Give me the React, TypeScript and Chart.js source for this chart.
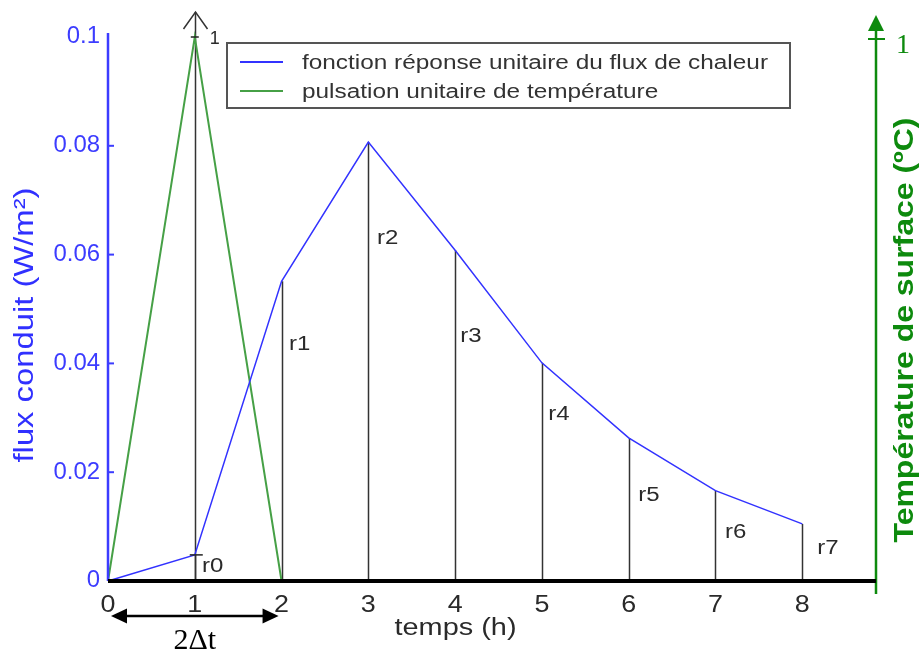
import React, { useEffect, useRef } from 'react';
import { Chart, registerables } from 'chart.js';

Chart.register(...registerables);

// ---- data ----
const hours = [0, 1, 2, 3, 4, 5, 6, 7, 8];
const fluxResponse = [0, 0.0048, 0.0551, 0.0807, 0.0608, 0.0401, 0.0263, 0.0166, 0.0105];
const pulseHours = [0, 1, 2];
const pulseTemp = [0, 1, 0];
const xTickLabels = ['0', '1', '2', '3', '4', '5', '6', '7', '8'];
const yTickValues = [0, 0.02, 0.04, 0.06, 0.08, 0.1];
const yTickLabels = ['0', '0.02', '0.04', '0.06', '0.08', '0.1'];
const rLabels = ['r0', 'r1', 'r2', 'r3', 'r4', 'r5', 'r6', 'r7'];
// annotation anchors (data units)
const rLabelX = [1.084, 2.086, 3.1, 4.058, 5.072, 6.11, 7.11, 8.173];
const rLabelY = [0.0026, 0.0434, 0.063, 0.0449, 0.0307, 0.0158, 0.009, 0.0059];

const SANS = '"Liberation Sans", Arial, sans-serif';
const SERIF = '"Liberation Serif", "Times New Roman", serif';
const BLUE = '#3232ff';
const AXIS_BLUE = '#3c3cff';
const GREEN_LINE = '#46a046';
const GREEN_AXIS = '#0d8a0d';
const TEXT = '#2a2a2a';

function drawText(
  ctx: CanvasRenderingContext2D,
  text: string,
  x: number,
  y: number,
  font: string,
  color: string,
  opts: { align?: CanvasTextAlign; baseline?: CanvasTextBaseline; rotate?: number; width?: number; stretch?: number } = {}
) {
  ctx.save();
  ctx.translate(x, y);
  if (opts.rotate) ctx.rotate(opts.rotate);
  ctx.font = font;
  const w = ctx.measureText(text).width;
  const s = opts.width ? opts.width / w : opts.stretch ?? 1;
  ctx.scale(s, 1);
  ctx.textAlign = opts.align ?? 'left';
  ctx.textBaseline = opts.baseline ?? 'alphabetic';
  ctx.fillStyle = color;
  ctx.fillText(text, 0, 0);
  ctx.restore();
  return s;
}

function line(ctx: CanvasRenderingContext2D, x1: number, y1: number, x2: number, y2: number) {
  ctx.beginPath();
  ctx.moveTo(x1, y1);
  ctx.lineTo(x2, y2);
  ctx.stroke();
}

const decor = {
  id: 'decor',
  beforeDatasetsDraw(chart: any) {
    const { ctx, chartArea } = chart;
    const x = chart.scales.x;
    const y = chart.scales.y;
    const y0 = y.getPixelForValue(0);
    ctx.save();
    ctx.strokeStyle = '#333';
    ctx.lineWidth = 1.5;
    for (let i = 1; i < hours.length; i++) {
      const px = Math.round(x.getPixelForValue(hours[i])) + 0.5;
      line(ctx, px, y0, px, y.getPixelForValue(fluxResponse[i]));
    }
    // arrow at t = 1
    const p1 = Math.round(x.getPixelForValue(1)) + 0.5;
    const top = chartArea.top - 25;
    line(ctx, p1, y0, p1, top);
    ctx.beginPath();
    ctx.moveTo(p1 - 12, top + 17);
    ctx.lineTo(p1, top);
    ctx.lineTo(p1 + 12, top + 17);
    ctx.stroke();
    ctx.restore();
  },
  afterDatasetsDraw(chart: any) {
    const { ctx, chartArea } = chart;
    const x = chart.scales.x;
    const y = chart.scales.y;
    const y2 = chart.scales.y2;
    const y0 = y.getPixelForValue(0);
    const left = chartArea.left;
    const right = chartArea.right;
    ctx.save();

    // small marks at t=1
    const p1 = x.getPixelForValue(1);
    ctx.strokeStyle = '#222';
    ctx.lineWidth = 1.5;
    line(ctx, p1 - 5, y.getPixelForValue(fluxResponse[1]), p1 + 8, y.getPixelForValue(fluxResponse[1]));
    line(ctx, p1 - 4, y.getPixelForValue(0.1), p1 + 4, y.getPixelForValue(0.1));

    // left axis
    ctx.strokeStyle = AXIS_BLUE;
    ctx.lineWidth = 2.5;
    line(ctx, left, chartArea.top - 4, left, y0);
    ctx.lineWidth = 2;
    yTickValues.forEach((v, i) => {
      const py = y.getPixelForValue(v);
      if (v > 0 && v < 0.1) line(ctx, left, py, left + 6, py);
      drawText(ctx, yTickLabels[i], left - 8, py, `23px ${SANS}`, AXIS_BLUE, { align: 'right', baseline: 'middle', stretch: 1.04 });
    });

    // right axis (green, with arrow)
    const top2 = y2.getPixelForValue(1);
    ctx.strokeStyle = GREEN_AXIS;
    ctx.fillStyle = GREEN_AXIS;
    ctx.lineWidth = 2.5;
    line(ctx, right, y0 + 13, right, top2 - 7);
    ctx.beginPath();
    ctx.moveTo(right, top2 - 22);
    ctx.lineTo(right - 8, top2 - 6);
    ctx.lineTo(right + 8, top2 - 6);
    ctx.closePath();
    ctx.fill();
    ctx.lineWidth = 2;
    line(ctx, right - 8, top2 + 2, right + 9, top2 + 2);
    drawText(ctx, '1', right + 20, top2 + 16, `28px ${SERIF}`, GREEN_AXIS);

    // x axis
    ctx.strokeStyle = '#000';
    ctx.lineWidth = 4;
    line(ctx, left, y0, right, y0);
    hours.forEach((h, i) => {
      drawText(ctx, xTickLabels[i], x.getPixelForValue(h), y0 + 31, `24px ${SANS}`, TEXT, { align: 'center', stretch: 1.12 });
    });
    drawText(ctx, 'temps (h)', (x.getPixelForValue(4) + x.getPixelForValue(5)) / 2 - 43, y0 + 54, `23px ${SANS}`, TEXT, { align: 'center', width: 122 });

    // axis titles
    drawText(ctx, 'flux conduit (W/m²)', 33, (chartArea.top + y0) / 2 + 16, `27px ${SANS}`, '#3030ff', { align: 'center', rotate: -Math.PI / 2, width: 275 });
    drawText(ctx, 'Température de surface (ºC)', 913, 330, `bold 28px ${SANS}`, GREEN_AXIS, { align: 'center', rotate: -Math.PI / 2, width: 425 });

    // "1" label near top arrow
    drawText(ctx, '1', p1 + 15, chartArea.top + 7, `18px ${SANS}`, TEXT);

    // r labels
    rLabels.forEach((r, i) => {
      drawText(ctx, r, x.getPixelForValue(rLabelX[i]), y.getPixelForValue(rLabelY[i]), `20px ${SANS}`, TEXT, { baseline: 'middle', stretch: 1.2 });
    });

    // 2Δt arrow
    const a = x.getPixelForValue(0) + 3;
    const b = x.getPixelForValue(2) - 3;
    const ay = y0 + 35;
    ctx.strokeStyle = '#000';
    ctx.fillStyle = '#000';
    ctx.lineWidth = 2.5;
    line(ctx, a + 10, ay, b - 10, ay);
    ctx.beginPath();
    ctx.moveTo(a, ay);
    ctx.lineTo(a + 16, ay - 7.5);
    ctx.lineTo(a + 16, ay + 7.5);
    ctx.closePath();
    ctx.fill();
    ctx.beginPath();
    ctx.moveTo(b, ay);
    ctx.lineTo(b - 16, ay - 7.5);
    ctx.lineTo(b - 16, ay + 7.5);
    ctx.closePath();
    ctx.fill();
    drawText(ctx, '2Δt', (a + b) / 2, y0 + 68, `30px ${SERIF}`, '#000', { align: 'center' });

    // legend
    const lx = 227, ly = 43, lw = 563, lh = 65;
    ctx.fillStyle = '#fff';
    ctx.fillRect(lx, ly, lw, lh);
    ctx.strokeStyle = '#555';
    ctx.lineWidth = 2;
    ctx.strokeRect(lx, ly, lw, lh);
    const ds = chart.data.datasets;
    ctx.lineWidth = 2;
    ctx.strokeStyle = ds[0].borderColor;
    line(ctx, lx + 13, ly + 19, lx + 56, ly + 19);
    ctx.strokeStyle = ds[1].borderColor;
    line(ctx, lx + 13, ly + 48, lx + 56, ly + 48);
    const s = drawText(ctx, ds[0].label, lx + 75, ly + 26, `20px ${SANS}`, '#333', { width: 466 });
    drawText(ctx, ds[1].label, lx + 75, ly + 55, `20px ${SANS}`, '#333', { stretch: s });

    ctx.restore();
  },
};

export default function App() {
  const ref = useRef<HTMLCanvasElement | null>(null);
  useEffect(() => {
    if (!ref.current) return;
    const chart = new Chart(ref.current, {
      type: 'line',
      data: {
        datasets: [
          {
            label: 'fonction réponse unitaire du flux de chaleur',
            data: hours.map((h, i) => ({ x: h, y: fluxResponse[i] })),
            borderColor: BLUE,
            borderWidth: 1.5,
            pointRadius: 0,
            tension: 0,
            yAxisID: 'y',
            clip: 8,
          },
          {
            label: 'pulsation unitaire de température',
            data: pulseHours.map((h, i) => ({ x: h, y: pulseTemp[i] })),
            borderColor: GREEN_LINE,
            borderWidth: 2,
            pointRadius: 0,
            tension: 0,
            yAxisID: 'y2',
            clip: 8,
          },
        ],
      },
      options: {
        animation: false,
        responsive: false,
        maintainAspectRatio: false,
        devicePixelRatio: 1,
        layout: { padding: { left: 108, right: 46, top: 37, bottom: 71 } },
        scales: {
          x: { type: 'linear', min: 0, max: 8.85, display: false },
          y: { type: 'linear', min: 0, max: 0.1, display: false },
          y2: { type: 'linear', min: 0, max: 1, display: false, position: 'right' },
        },
        plugins: { legend: { display: false }, tooltip: { enabled: false } },
      },
      plugins: [decor],
    } as any);
    return () => chart.destroy();
  }, []);
  return (
    <div style={{ position: 'absolute', left: 0, top: 0, width: 922, height: 652, background: '#fff' }}>
      <canvas ref={ref} width={922} height={652} style={{ display: 'block' }} />
    </div>
  );
}
